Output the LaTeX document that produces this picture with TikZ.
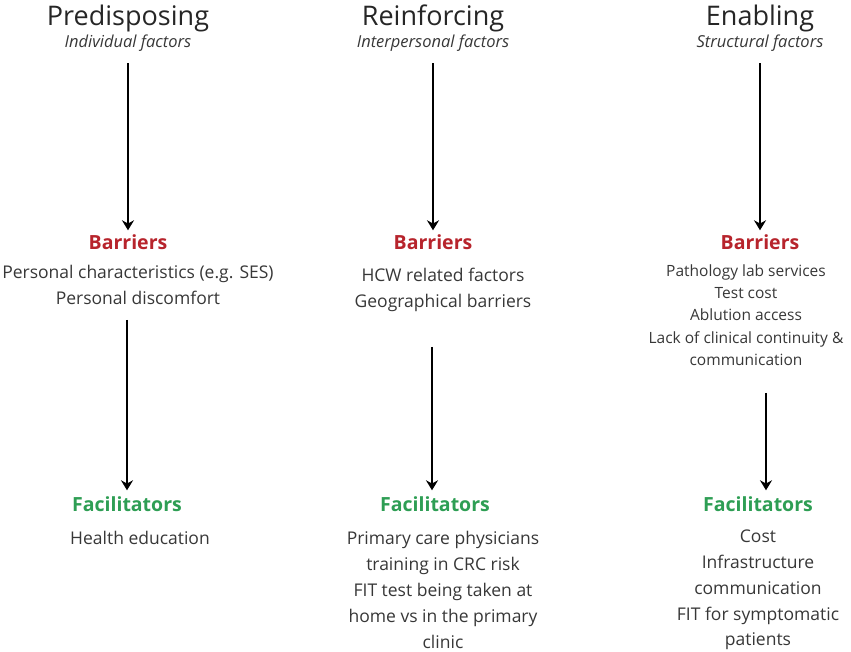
\documentclass[tikz,border=0pt]{standalone}
\usepackage{fontspec}
\setmainfont{Open Sans}
\usepackage{tikz}
\usetikzlibrary{arrows.meta,positioning}

\definecolor{barred}{RGB}{183,36,44}
\definecolor{facgreen}{RGB}{46,158,84}
\definecolor{bodytext}{RGB}{55,55,55}

\tikzset{
  heading/.style={inner sep=0pt,text=black!85,font=\fontsize{27}{30}\selectfont},
  subhead/.style={inner sep=0pt,text=bodytext,font=\fontsize{16.5}{18}\selectfont\itshape},
  barlabel/.style={inner sep=0pt,text=barred,font=\fontsize{19.5}{22}\selectfont\bfseries},
  faclabel/.style={inner sep=0pt,text=facgreen,font=\fontsize{19.5}{22}\selectfont\bfseries},
  itemtext/.style={inner sep=0pt,align=center,text=bodytext,font=\fontsize{17.5}{25.8}\selectfont},
  smalltext/.style={inner sep=0pt,align=center,text=bodytext,font=\fontsize{15.5}{22.3}\selectfont},
  flow/.style={-{Stealth[length=10pt,width=12pt]},line width=2.6pt,black}
}

\begin{document}
\begin{tikzpicture}[x=1pt,y=-1pt]
\useasboundingbox (0,0) rectangle (851,652);

% column headings
\node[heading] (P) at (128,18) {Predisposing};
\node[subhead] (Ps) at (128,43) {Individual factors};
\node[heading] (R) at (433,18) {Reinforcing};
\node[subhead] (Rs) at (433,43) {Interpersonal factors};
\node[heading] (E) at (760,18) {Enabling};
\node[subhead] (Es) at (760,43) {Structural factors};

% barriers
\node[barlabel] (PB) at (128,242) {Barriers};
\node[itemtext] (PBt) at (138,285) {Personal characteristics (e.g. SES)\\Personal discomfort};
\node[barlabel] (RB) at (433,242) {Barriers};
\node[itemtext] (RBt) at (443,290) {HCW related factors\\Geographical barriers};
\node[barlabel] (EB) at (760,242) {Barriers};
\node[smalltext] (EBt) at (746,315) {Pathology lab services\\Test cost\\Ablution access\\Lack of clinical continuity \&\\communication};

% facilitators
\node[faclabel] (PF) at (127,504) {Facilitators};
\node[itemtext] (PFt) at (140,538) {Health education};
\node[faclabel] (RF) at (435,504) {Facilitators};
\node[itemtext] (RFt) at (443,590) {Primary care physicians\\training in CRC risk\\FIT test being taken at\\home vs in the primary\\clinic};
\node[faclabel] (EF) at (758,504) {Facilitators};
\node[itemtext] (EFt) at (758,590) {Cost\\Infrastructure\\communication\\FIT for symptomatic\\patients};

% first row of arrows
\foreach \from/\to in {Ps/PB,Rs/RB,Es/EB}
\draw [flow,shorten <=12pt,shorten >=4pt] (\from.south -| \to.north) -- (\to.north);

% second row of arrows
\draw [flow,shorten <=15pt,shorten >=6pt] (PBt.south -| 127,0) -- (PF.north -| 127,0);
\draw [flow,shorten <=35pt,shorten >=6pt] (RBt.south -| 432,0) -- (RF.north -| 432,0);
\draw [flow,shorten <=27pt,shorten >=6pt] (EBt.south -| 766,0) -- (EF.north -| 766,0);
\end{tikzpicture}
\end{document}
